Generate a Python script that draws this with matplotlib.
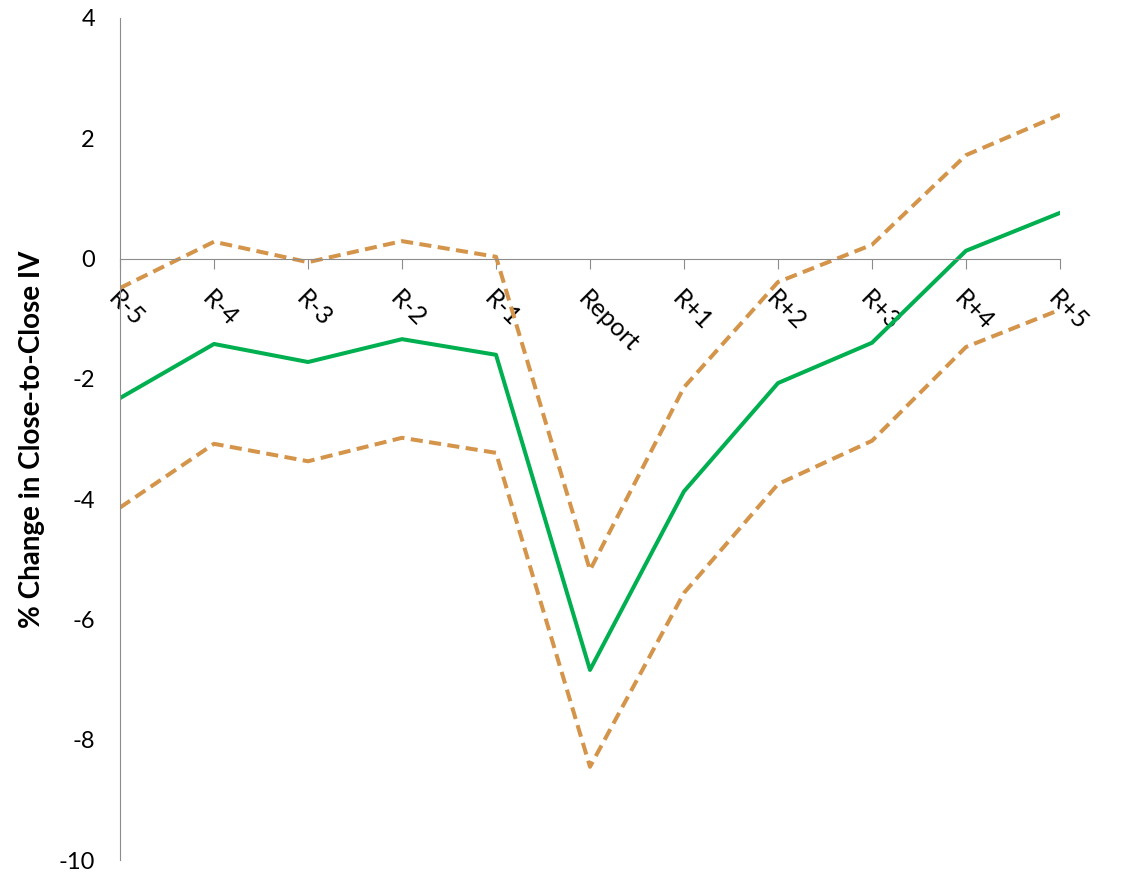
import matplotlib
matplotlib.use("Agg")
import matplotlib.pyplot as plt

# Close-to-close implied volatility change around the earnings report
days = ["R-5", "R-4", "R-3", "R-2", "R-1", "Report",
        "R+1", "R+2", "R+3", "R+4", "R+5"]
mean_change = [-2.32, -1.42, -1.72, -1.34, -1.60, -6.84,
               -3.87, -2.07, -1.40, 0.13, 0.76]
upper_band = [-0.49, 0.28, -0.06, 0.29, 0.03, -5.18,
              -2.14, -0.39, 0.23, 1.72, 2.39]
lower_band = [-4.14, -3.08, -3.37, -2.98, -3.23, -8.45,
              -5.56, -3.75, -3.03, -1.47, -0.85]

plt.rcParams['font.family'] = ['Lato', 'DejaVu Sans']

fig = plt.figure(figsize=(11.24, 8.72), dpi=100)
ax = fig.add_axes([120 / 1124, 12 / 872, 940 / 1124, 842 / 872])

x = list(range(len(days)))
band_color = "#D4944A"
ax.plot(x, upper_band, color=band_color, lw=2.9, dashes=(3, 1.6), solid_capstyle="butt")
ax.plot(x, lower_band, color=band_color, lw=2.9, dashes=(3, 1.6), solid_capstyle="butt")
ax.plot(x, mean_change, color="#00B050", lw=2.9)

ax.set_xlim(0, len(days) - 1)
ax.set_ylim(-10, 4)
ax.set_yticks(range(-10, 5, 2))
ax.set_yticklabels([str(v) for v in range(-10, 5, 2)], fontsize=17)

axis_grey = "#8C8C8C"
for side in ("top", "right"):
    ax.spines[side].set_visible(False)
ax.spines["left"].set_color(axis_grey)
ax.spines["bottom"].set_color(axis_grey)
ax.spines["bottom"].set_position(("data", 0))
ax.tick_params(axis="y", length=0, pad=18)
ax.tick_params(axis="x", length=7, color=axis_grey, direction="out", pad=13)

ax.set_xticks(x)
ax.set_xticklabels(days, fontsize=18, rotation=-45, ha="left",
                   va="top", rotation_mode="anchor")

ax.set_ylabel("% Change in Close-to-Close IV", fontsize=20, fontweight="bold",
              labelpad=10)

fig.savefig("out.png", dpi=100, facecolor="white")
